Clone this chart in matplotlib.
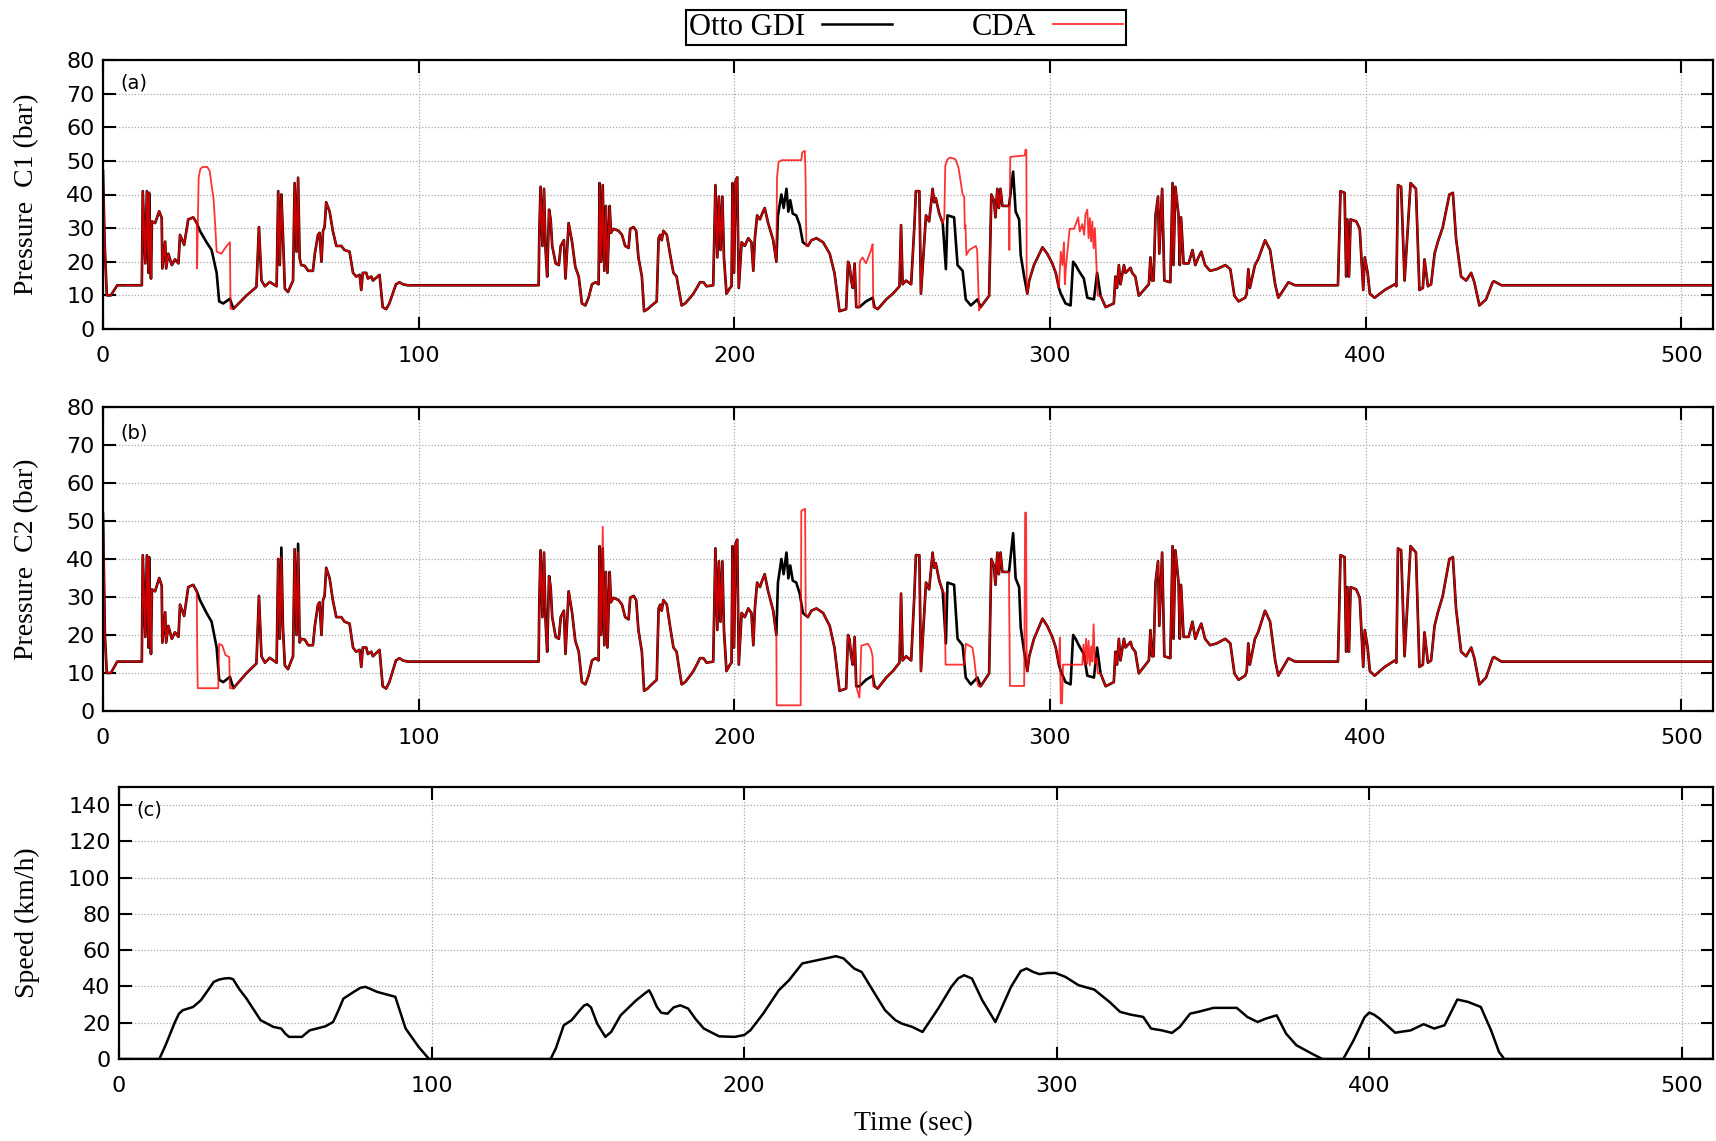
import numpy as np
import matplotlib
matplotlib.use("Agg")
from matplotlib import pyplot as plt
from matplotlib.lines import Line2D

# ---- DATA (time in s, pressure in bar, speed in km/h) ----

# Otto GDI, cylinder C1 pressure
gdi_c1 = [
    (0, 47), (0.5, 26), (1.2, 10), (2.5, 10), (4.5, 13), (12.3, 13), (12.6, 41), (13.4, 19.5),
    (13.9, 41), (14.4, 16.7), (14.6, 40.5), (15.2, 15), (15.5, 32), (16.5, 31.5), (17.8, 35),
    (18.6, 33), (18.8, 18), (19.7, 26), (20, 18), (20.7, 22.4), (21.5, 20), (21.8, 19),
    (22.8, 20.7), (23.9, 19.5), (24.4, 28), (25.7, 25), (27, 32.6), (28.6, 33.2), (29.7, 31.5),
    (30.7, 29.2), (32.8, 25.8), (34.4, 23.5), (36, 16.7), (36.8, 8.2), (38.1, 7.6), (40.2, 9),
    (41.3, 6), (45.5, 10), (48.6, 12.5), (49.4, 30.3), (50.2, 14.4), (51.3, 12.7), (52.8, 14),
    (55, 12.7), (55.5, 41), (56, 19), (56.5, 40), (57, 28), (57.6, 12), (58.6, 11), (60.2, 14.4),
    (60.7, 43.4), (61.3, 23), (61.8, 45), (62.3, 21), (62.8, 19), (63.9, 18.8), (65, 17.3),
    (66.5, 17.3), (67.1, 22.4), (68.1, 28), (68.6, 28.6), (69.2, 20), (69.7, 29.2), (70.2, 30.3),
    (70.7, 37.7), (71.8, 34.9), (72.8, 29.2), (73.9, 24.7), (75.5, 24.7), (76.5, 23.5),
    (78.1, 23), (79.2, 16.7), (80.2, 15.6), (81.3, 16.1), (81.8, 11.6), (82.3, 16.7),
    (83.4, 16.7), (83.9, 15), (85, 15.6), (85.5, 14.4), (87.6, 16.1), (88.6, 6.5), (89.7, 5.9),
    (90.7, 7.6), (92.8, 13.3), (93.9, 13.9), (95, 13.3), (96.5, 13), (138, 13), (138.2, 28),
    (138.6, 42.3), (139.2, 24.7), (139.7, 41.7), (140.2, 23.5), (140.7, 15.6), (141.3, 35.5),
    (141.8, 32.6), (142.3, 24.7), (143.4, 19.5), (144.4, 19), (145, 24.7), (146, 26.4),
    (146.5, 15), (147.5, 31.5), (148.6, 25.8), (149.6, 18.5), (150.7, 15.6), (151.7, 7.6),
    (152.8, 7), (153.8, 9.3), (154.9, 13.3), (156, 13.9), (157, 13.3), (157.3, 43.4), (157.8, 20),
    (158.3, 42.8), (158.8, 17.3), (159.3, 36.6), (159.8, 16.7), (160.5, 36.6), (160.9, 28.6),
    (161.7, 29.8), (163.3, 29.2), (164.4, 28), (165.4, 24.7), (166.5, 24.1), (167, 29.8),
    (168.1, 30.3), (168.9, 29.2), (169.6, 21.3), (170.7, 15.6), (171.4, 5.3), (172.5, 5.9),
    (173.8, 7), (175.4, 8.2), (176, 27), (176.5, 28), (177, 26.4), (177.5, 29.2), (178.6, 28),
    (179.6, 22.4), (180.7, 16.7), (181.7, 15.6), (182.3, 12.2), (183.3, 7), (184.4, 7.6),
    (186, 9.3), (187, 10.5), (188.1, 12.2), (189.1, 13.9), (190.2, 13.9), (191.2, 12.7),
    (193.3, 13), (194, 42.8), (194.6, 21.3), (195.1, 39.4), (195.6, 23.5), (196.2, 39.4),
    (196.7, 21.3), (197.5, 10.5), (198.6, 12.2), (199.1, 12.7), (199.4, 43.4), (199.9, 16.7),
    (200.4, 44), (200.9, 45.1), (201.4, 12.2), (202.3, 25.8), (203.3, 24.7), (204.4, 27),
    (205.4, 25.8), (206, 17.3), (206.5, 27), (207.2, 33.8), (208.1, 32.6), (208.8, 34.3),
    (209.6, 36), (210.7, 31.5), (212.3, 26.4), (213.3, 20), (213.8, 33.8), (214.9, 40),
    (215.6, 36), (216.5, 41.7), (217.1, 34.9), (217.7, 38.3), (218.5, 34.3), (219.6, 33.8),
    (220.7, 30.9), (221.7, 25.8), (223.3, 24.7), (224.4, 26.4), (226, 27), (228.1, 25.8),
    (230.2, 22.4), (231.7, 16.7), (232.8, 8.8), (233.3, 5.3), (235.4, 5.9), (236, 20),
    (236.5, 18.8), (237, 14.4), (237.5, 12.2), (238.1, 19.5), (238.6, 6.5), (239.6, 6.5),
    (241.7, 8.2), (243.8, 9.3), (244.4, 6.5), (245.4, 5.9), (248.1, 8.8), (250.2, 10.5),
    (252.3, 12.7), (252.8, 30.9), (253.3, 13.3), (254.4, 14.4), (256, 13.3), (257, 30.3),
    (257.5, 41), (258.6, 41), (259.1, 10.5), (260.7, 33.8), (261.7, 32), (262.8, 41.7),
    (263.3, 37.7), (263.8, 38.9), (264.9, 34.3), (266, 31.5), (267, 17.8), (267.5, 33.8),
    (269.6, 33.2), (270.7, 19), (272.3, 17.3), (273.3, 8.8), (274.9, 7), (277, 8.8), (278, 6.5),
    (280.7, 9.9), (281.4, 40), (282.2, 38.3), (282.7, 33.2), (283.3, 41.7), (283.8, 36),
    (284.3, 41.7), (284.9, 36.6), (287, 36.6), (288.3, 46.8), (289.1, 34.9), (290.2, 32.6),
    (290.7, 22), (291.8, 15.6), (292.8, 10.5), (293.4, 14.4), (294.9, 19), (297.6, 24.3),
    (299.1, 22.4), (300.7, 19.5), (301.8, 16.7), (302.8, 12.2), (303.4, 10.5), (304.9, 7.6),
    (306.5, 7), (307.3, 20), (308.1, 19), (309.1, 17.3), (310.7, 15), (311.8, 9.3),
    (313.9, 8.8), (314.9, 16.7), (316, 9.9), (317.6, 6.5), (320.2, 7.6), (320.7, 15.6),
    (321.2, 12.2), (321.8, 19), (322.3, 13.3), (323.4, 19), (323.9, 16.7), (325.5, 18.2),
    (326, 16.7), (327, 15.6), (328.1, 9.9), (329.7, 11.6), (331.3, 13.3), (331.8, 21.3),
    (332.3, 14.4), (332.8, 14.4), (333.4, 33.8), (334.2, 39.4), (334.6, 22.4), (335.5, 41.7),
    (336.2, 14.4), (338.1, 13.9), (338.8, 43.4), (339.1, 19), (339.7, 42.3), (340.7, 33.8),
    (341.1, 19), (341.5, 33.2), (342.3, 19.5), (343.9, 19.5), (345.1, 23.5), (346, 19),
    (347, 21.3), (347.9, 23), (349.1, 19), (350.7, 17.3), (352.8, 17.8), (355.5, 19),
    (357.1, 17.8), (358.4, 9.9), (359.7, 8.2), (361.8, 9.3), (362.3, 10.5), (362.8, 17.8),
    (363.3, 12.2), (364.9, 19), (365.9, 20.7), (368.1, 26.4), (369.7, 23.5), (371.3, 13.3),
    (372.3, 9.3), (373.9, 11.6), (375.5, 13.9), (377.6, 13), (391.2, 13), (392, 41),
    (393.3, 40.5), (393.8, 15.6), (394.2, 32.6), (394.7, 15.6), (395.2, 32.6), (397, 32),
    (398.1, 29.8), (399.2, 11.6), (399.7, 21.3), (400.6, 16.7), (401.3, 10.5), (402.8, 9.3),
    (406, 11.6), (409.2, 13.3), (409.7, 12.7), (410.2, 42.8), (411.2, 42.3), (412.3, 14.4),
    (414.2, 43.4), (415.9, 41.7), (417, 11.6), (418.1, 12.2), (418.6, 20.7), (419.7, 12.7),
    (420.7, 13.3), (421.8, 22.4), (422.8, 25.8), (424.4, 30.3), (426.5, 40), (427.6, 40.5),
    (428.6, 27), (430.2, 15.6), (431.8, 14.4), (433.4, 16.7), (434.4, 13.9), (436, 7),
    (438.1, 8.8), (440.2, 13.9), (440.6, 14.2), (443, 13), (510, 13),
]

# CDA, cylinder C1: intervals (start, end, points) where it leaves the Otto GDI trace
cda_c1_segments = [
    (29.7, 41.3, [(29.8, 18), (30.3, 45), (30.8, 47.5), (31.5, 48.2), (33, 48.2), (33.8, 47),
                  (34.5, 42), (35, 39), (35.5, 31.5), (36, 23), (37.5, 22.4), (39, 24.5),
                  (40.2, 25.8), (40.4, 6)]),
    (213.3, 223.3, [(213.5, 45), (214, 49.7), (215, 50.2), (221.2, 50.2), (221.5, 52.5),
                    (222.3, 53), (222.5, 48), (222.8, 24.7)]),
    (239.6, 244.4, [(239.7, 20), (240.6, 21.3), (241.7, 19.5), (243.3, 23.5), (243.8, 25.2),
                    (244.0, 6.5)]),
    (266, 277.9, [(266.5, 33), (266.8, 48.5), (267.5, 50.5), (268.4, 51), (270, 50.5),
                  (271, 48), (272.3, 40), (272.8, 39.4), (273, 30), (273.2, 31), (273.5, 22),
                  (274.4, 23.5), (276.5, 24.7), (276.9, 23.5), (277.5, 5.5)]),
    (287, 292.8, [(287.1, 23.5), (287.4, 51.2), (292.0, 51.6), (292.2, 53.3), (292.5, 53.3),
                  (292.6, 13)]),
    (302.8, 316, [(303.4, 23), (303.9, 19), (304.4, 25.8), (304.7, 13.3), (305, 18),
                  (306.2, 29.8), (307.6, 29.8), (308.9, 33.2), (309.4, 29), (310.2, 31.2),
                  (310.8, 28), (311.2, 34), (311.8, 35.5), (312.2, 27), (312.6, 33), (313, 26),
                  (313.4, 32), (313.8, 24), (314.2, 30), (314.5, 23.5), (315.1, 9.9)]),
]

# Otto GDI, cylinder C2: same as C1 except these intervals
gdi_c2_segments = [
    (-1, 1.2, [(0, 52), (0.6, 20)]),
    (55.2, 62.5, [(55.5, 40), (56, 19), (56.5, 43), (57, 22), (57.6, 12), (58.6, 11),
                  (60.2, 14.4), (60.7, 42.6), (61.3, 20), (61.8, 44), (62.3, 18)]),
]

# CDA, cylinder C2
cda_c2_segments = [
    (29.7, 41.3, [(29.8, 20), (30.0, 6), (36.5, 6), (36.8, 17.7), (37.8, 17.2), (38.8, 14.7),
                  (40.0, 14.2), (40.2, 6)]),
    (55.2, 62.5, [(55.5, 40), (56, 19), (56.5, 40.6), (57, 22), (57.6, 12), (58.6, 11),
                  (60.2, 14.4), (60.7, 42.6), (61.3, 20), (61.8, 41.8), (62.3, 18)]),
    (157.9, 158.7, [(158.3, 48.5)]),
    (213.3, 223.3, [(213.4, 1.5), (221.0, 1.5), (221.2, 52.7), (222.4, 53.2), (222.6, 25.4)]),
    (239.5, 244.4, [(239.6, 3.5), (239.8, 6.5), (240.2, 17.2), (242.3, 17.7), (243.3, 16.2),
                    (243.8, 14.2), (244.0, 6.5)]),
    (266, 277.9, [(266.6, 31), (266.9, 12.2), (272.8, 12.2), (273.3, 17.7), (275.4, 16.7),
                  (275.9, 14.2), (276.6, 9), (277.3, 6.5)]),
    (287, 292.8, [(287.05, 28.4), (287.3, 6.6), (291.8, 6.6), (292.1, 52.2), (292.4, 52.2),
                  (292.6, 13)]),
    (302.8, 316, [(303.1, 19.3), (303.4, 2), (303.8, 2), (304.1, 12.2), (310.2, 12.2),
                  (310.6, 17.5), (311, 12), (311.4, 19), (311.8, 12.5), (312.2, 18.5),
                  (312.6, 12), (313, 17), (313.4, 13), (313.8, 22.8), (314.2, 12.5),
                  (314.8, 14), (315.1, 9.9)]),
]

# Vehicle speed
speed = [
    (0, 0), (12.9, 0), (15, 8), (17.9, 20.4), (19.2, 25), (20.4, 26.9), (23.7, 28.7),
    (26.2, 32.4), (28.5, 38), (30.3, 42.5), (32, 43.8), (33.7, 44.4), (35.3, 44.6), (36.5, 44),
    (38.5, 38.5), (40.8, 33.3), (45.3, 21.4), (49.4, 17.7), (51.9, 16.8), (53.2, 14),
    (54.4, 12.2), (58.5, 12.2), (61, 15.8), (66, 18), (68.5, 20.4), (70, 26), (71.8, 33.3),
    (75.1, 37), (77.2, 39.2), (78.8, 39.8), (80.5, 38.6), (82.6, 37), (88.4, 34.3),
    (91.7, 16.8), (95.9, 6.6), (99.2, 0), (138.1, 0), (139.8, 6), (142.3, 18.6), (144.8, 21.4),
    (147.5, 27), (148.8, 29.5), (149.8, 30.2), (151, 28.5), (153, 19.5), (155.6, 12.2),
    (157.5, 15), (160.5, 24.1), (165.5, 32.4), (168.5, 36.5), (169.6, 37.9), (170.5, 35),
    (172.1, 28.7), (173.5, 25.5), (175.5, 25), (177.5, 28.5), (179.6, 29.6), (182.1, 27.8),
    (184.5, 22), (187.1, 16.8), (192, 12.5), (197, 12.2), (200, 13.2), (202, 15.8),
    (206.1, 25), (211.1, 37.9), (214.4, 43.5), (218.6, 52.7), (223.5, 54.5), (229.4, 56.7),
    (231.8, 55.5), (235.2, 49.9), (237.6, 48), (241.8, 36.1), (245.1, 26.9), (248.4, 21.4),
    (250.5, 19.5), (253.8, 17.7), (257.1, 14.9), (262.1, 27.8), (266.3, 39.8), (268.5, 44.5),
    (270.4, 46.2), (272.9, 44.4), (276.2, 32.4), (280.4, 20.4), (285.4, 39.8), (288.5, 48.5),
    (290.4, 49.9), (292.5, 48), (294.5, 46.8), (297, 47.4), (299.5, 47.5), (302.8, 45.3),
    (307, 40.7), (312, 38.3), (316.9, 31.5), (320.3, 26), (323.6, 24.5), (327.7, 23.2),
    (330.2, 16.8), (333.6, 15.8), (336.9, 14.4), (339.4, 17.7), (342.7, 25), (346, 26.3),
    (350.2, 28.2), (357.6, 28.2), (361, 23.2), (364.3, 20.4), (366.8, 22.2), (370.4, 24.1),
    (373.4, 14), (376.7, 7.6), (381.7, 2.9), (385, 0), (391.7, 0), (395, 10.3), (398.5, 23),
    (400, 25.6), (401.5, 24.5), (403.3, 22.3), (408.3, 14.5), (413.3, 15.8), (417.4, 19.2),
    (420.8, 16.8), (424.1, 18.6), (428.2, 32.8), (431.6, 31.5), (435.7, 28.7), (439, 15.8),
    (441.5, 4), (443.2, 0), (510, 0),
]


# Replace the points of a trace inside each interval by the given points
def splice(base, segments):
    out = list(base)
    for lo, hi, pts in segments:
        out = [p for p in out if not (lo < p[0] < hi)] + list(pts)
    out.sort(key=lambda p: p[0])
    return np.array(out).T


t_a_gdi, p_a_gdi = np.array(gdi_c1).T
t_a_cda, p_a_cda = splice(gdi_c1, cda_c1_segments)
gdi_c2 = list(zip(*splice(gdi_c1, gdi_c2_segments)))
t_b_gdi, p_b_gdi = np.array(gdi_c2).T
t_b_cda, p_b_cda = splice(gdi_c2, cda_c2_segments)
t_spd, v_spd = np.array(speed).T

# ---- FIGURE ----
W, H = 1716, 1141
fig = plt.figure(figsize=(W / 100, H / 100), dpi=100)


def box(left, top, right, bottom):
    return [left / W, 1 - bottom / H, (right - left) / W, (bottom - top) / H]


ax_a = fig.add_axes(box(103, 60, 1713, 329))
ax_b = fig.add_axes(box(103, 407, 1713, 711))
ax_c = fig.add_axes(box(119, 787, 1713, 1059))

serif = "Liberation Serif"


def style(ax, ymax, yticks, tag):
    ax.set_xlim(0, 510)
    ax.set_ylim(0, ymax)
    ax.set_xticks(range(0, 501, 100))
    ax.set_yticks(yticks)
    ax.tick_params(direction="in", length=9, width=1.5, top=True, right=True, labelsize=16)
    ax.tick_params(axis="x", pad=12)
    ax.tick_params(axis="y", pad=6)
    ax.grid(color="#a8a8a8", linestyle=(0, (1, 1.5)), lw=0.9)
    ax.set_axisbelow(True)
    for s in ax.spines.values():
        s.set_linewidth(1.6)
    ax.text(0.011, 0.915, tag, transform=ax.transAxes, fontsize=14, va="center")


ax_a.plot(t_a_gdi, p_a_gdi, color="black", lw=1.9)
ax_a.plot(t_a_cda, p_a_cda, color="red", lw=1.3, alpha=0.8)
style(ax_a, 80, range(0, 81, 10), "(a)")

ax_b.plot(t_b_gdi, p_b_gdi, color="black", lw=1.9)
ax_b.plot(t_b_cda, p_b_cda, color="red", lw=1.3, alpha=0.8)
style(ax_b, 80, range(0, 81, 10), "(b)")

ax_c.plot(t_spd, v_spd, color="black", lw=1.8)
style(ax_c, 150, range(0, 141, 20), "(c)")

# axis titles
fig.text(27 / W, 1 - 194 / H, "Pressure  C1 (bar)", rotation=90, ha="center", va="center",
         family=serif, fontsize=20)
fig.text(27 / W, 1 - 559 / H, "Pressure  C2 (bar)", rotation=90, ha="center", va="center",
         family=serif, fontsize=20)
fig.text(27 / W, 1 - 923 / H, "Speed (km/h)", rotation=90, ha="center", va="center",
         family=serif, fontsize=20)
fig.text(913 / W, 1 - 1124 / H, "Time (sec)", ha="center", va="center",
         family=serif, fontsize=20)

handles = [Line2D([], [], color="black", lw=1.8), Line2D([], [], color="#ff3030", lw=1.3)]
leg = fig.legend(handles, ["Otto GDI", "CDA"], loc="center", bbox_to_anchor=(906 / W, 1 - 27.5 / H),
                 ncol=2, markerfirst=False, fancybox=False, edgecolor="black", framealpha=1,
                 prop={"family": serif, "size": 22}, handlelength=2.3, columnspacing=2.6,
                 borderpad=0.1, handletextpad=0.55, borderaxespad=0)
leg.get_frame().set_linewidth(1.5)

fig.savefig("out.png", dpi=100)
